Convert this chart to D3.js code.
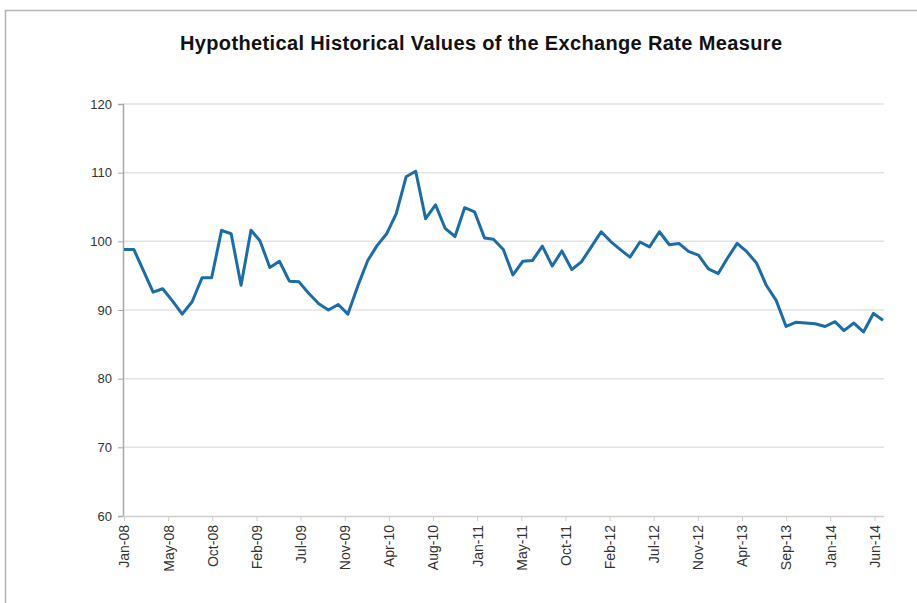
<!DOCTYPE html>
<html>
<head>
<meta charset="utf-8">
<script src="https://cdn.jsdelivr.net/npm/d3@7"></script>
<style>
    body { margin: 0; background: #fff; }
    svg { display: block; font-family: "Liberation Sans", Arial, sans-serif; }
</style>
</head>
<body>
<svg id="svg"></svg>
<script>
// Chart data (monthly, Jan-08 to Jul-14)
const startMonth = "2008-01";
const rateValues = [
    98.8, 98.8, 95.8, 92.6, 93.1, 91.3, 89.4, 91.2, 94.7, 94.7, 101.6, 101.1,
    93.6, 101.6, 100.1, 96.2, 97.1, 94.2, 94.1, 92.4, 90.9, 90.0, 90.8, 89.4,
    93.5, 97.2, 99.3, 101.1, 104.0, 109.4, 110.2, 103.3, 105.3, 101.9, 100.7, 104.9,
    104.3, 100.5, 100.3, 98.8, 95.1, 97.1, 97.2, 99.3, 96.4, 98.6, 95.9, 97.0,
    99.2, 101.4, 100.0, 98.8, 97.7, 99.9, 99.2, 101.4, 99.5, 99.7, 98.5, 98.0,
    96.0, 95.3, 97.5, 99.7, 98.5, 96.8, 93.6, 91.4, 87.6, 88.2, 88.1, 88.0,
    87.6, 88.3, 87.0, 88.1, 86.8, 89.5, 88.5
];
const yTicks = [60, 70, 80, 90, 100, 110, 120];
const tickStepDays = 138;
const tickCount = 18;
const chartTitle = "Hypothetical Historical Values of the Exchange Rate Measure";

// SVG Dimensions
const width = 917, height = 603;
const svg = d3.select("#svg").attr("width", width).attr("height", height);

// outer frame (runs off the right and bottom edges)
svg.append("rect")
    .attr("x", 5.5).attr("y", 10.5)
    .attr("width", 930).attr("height", 620)
    .attr("fill", "none")
    .attr("stroke", "#b5b5b5")
    .attr("stroke-width", 1.5);

const parseMonth = d3.timeParse("%Y-%m");
const start = parseMonth(startMonth);
const data = rateValues.map((v, i) => ({ date: d3.timeMonth.offset(start, i), value: v }));

const x = d3.scaleTime()
    .domain([start, data[data.length - 1].date])
    .range([124, 883]);

const y = d3.scaleLinear()
    .domain([60, 120])
    .range([516, 104]);

// grid lines
svg.append("g")
    .selectAll("line")
    .data(yTicks.slice(1))
    .enter()
    .append("line")
    .attr("x1", 123).attr("x2", 884)
    .attr("y1", (d) => y(d)).attr("y2", (d) => y(d))
    .attr("stroke", "#e3e3e3")
    .attr("stroke-width", 1.5);

// y axis
const yAxis = svg.append("g")
    .attr("transform", "translate(123,0)")
    .call(d3.axisLeft(y).tickValues(yTicks).tickSize(5).tickPadding(6));
yAxis.select(".domain").attr("stroke", "#a8a8a8").attr("stroke-width", 1.5);
yAxis.selectAll(".tick line").attr("stroke", "#a8a8a8");
yAxis.selectAll("text")
    .attr("fill", "#333")
    .style("font-size", "13px")
    .style("font-family", "Liberation Sans, Arial, sans-serif");

// x axis, ticks every 138 days like the original date axis
const xTickDates = d3.range(tickCount).map((k) => d3.timeDay.offset(start, k * tickStepDays));
const xAxis = svg.append("g")
    .attr("transform", "translate(0,516)")
    .call(d3.axisBottom(x).tickValues(xTickDates).tickFormat(d3.timeFormat("%b-%y")).tickSize(5).tickSizeOuter(0));
xAxis.select(".domain").attr("stroke", "#cfcfcf").attr("stroke-width", 1.5)
    .attr("d", "M123,0.5H884");
xAxis.selectAll(".tick line").attr("stroke", "#cfcfcf");
xAxis.selectAll("text")
    .attr("fill", "#333")
    .style("font-size", "14px")
    .style("font-family", "Liberation Sans, Arial, sans-serif")
    .attr("text-anchor", "end")
    .attr("dy", "0.35em")
    .attr("transform", "translate(0,-1) rotate(-90)")
    .attr("x", -10)
    .attr("y", 0);

// the line
const line = d3.line()
    .x((d) => x(d.date))
    .y((d) => y(d.value));

svg.append("path")
    .datum(data)
    .attr("d", line)
    .attr("fill", "none")
    .attr("stroke", "#1c6ca6")
    .attr("stroke-width", 3)
    .attr("stroke-linejoin", "round");

// title
svg.append("text")
    .attr("x", 481)
    .attr("y", 50)
    .attr("text-anchor", "middle")
    .attr("fill", "#111")
    .attr("textLength", 602)
    .attr("lengthAdjust", "spacing")
    .style("font-size", "20px")
    .style("font-weight", "bold")
    .text(chartTitle);
</script>
</body>
</html>
